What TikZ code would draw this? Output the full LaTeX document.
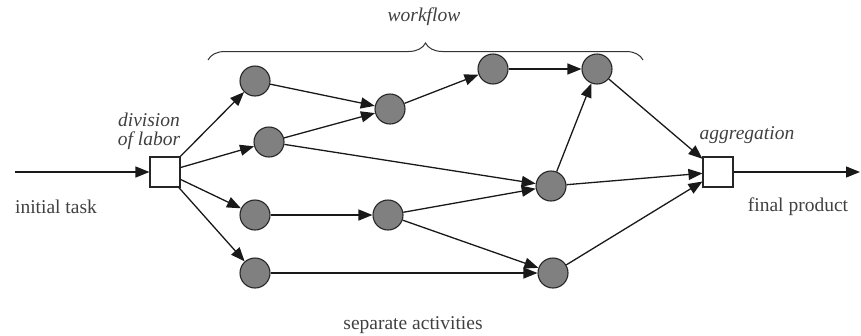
\documentclass[tikz,border=0pt]{standalone}
\usepackage{fontspec}
\setmainfont{Liberation Serif}
\usetikzlibrary{arrows.meta,decorations.pathreplacing}
\begin{document}
\begin{tikzpicture}[x=1pt,y=-1pt,
  act/.style={circle,draw=black!85,line width=1.1pt,fill=black!50,minimum size=30pt,inner sep=0pt},
  junction/.style={rectangle,draw=black!85,line width=1.1pt,fill=white,minimum size=30pt,inner sep=0pt},
  flow/.style={line width=1.3pt,draw=black!90,-{Triangle[length=14pt,width=11pt]}},
  lbl/.style={font=\fontsize{19.5}{22}\selectfont,text=black!75},
  ilbl/.style={font=\fontsize{19.5}{19}\selectfont\itshape,text=black!75}]
\useasboundingbox (0,0) rectangle (861,335);

% entry / exit points
\coordinate (in) at (15,172);
\coordinate (out) at (860,172);

% division and aggregation points
\node[junction] (div) at (165,172) {};
\node[junction] (agg) at (718,172) {};

% activities
\node[act] (a1) at (255,81) {};
\node[act] (a2) at (269,142) {};
\node[act] (a3) at (255,215) {};
\node[act] (a4) at (255,273) {};
\node[act] (b1) at (390,109) {};
\node[act] (b2) at (388,215) {};
\node[act] (c1) at (493,69) {};
\node[act] (c2) at (597,69) {};
\node[act] (d1) at (551,186) {};
\node[act] (d2) at (553,273) {};

% connectors
\draw[flow] (in) -- (div);
\draw[flow] (div) -- (a1);
\draw[flow] (div) -- (a2);
\draw[flow] (div) -- (a3);
\draw[flow] (div) -- (a4);
\draw[flow] (a1) -- (b1);
\draw[flow] (a2) -- (b1);
\draw[flow] (a2) -- (d1);
\draw[flow] (b1) -- (c1);
\draw[flow] (c1) -- (c2);
\draw[flow] (a3) -- (b2);
\draw[flow] (b2) -- (d1);
\draw[flow] (b2) -- (d2);
\draw[flow] (a4) -- (d2);
\draw[flow] (d1) -- (c2);
\draw[flow] (c2) -- (agg);
\draw[flow] (d1) -- (agg);
\draw[flow] (d2) -- (agg);
\draw[flow] (agg) -- (out);

% workflow brace
\coordinate (bl) at (208,60);
\coordinate (br) at (643,60);
\draw[line width=1pt,black!80,decorate,decoration={brace,amplitude=17pt}] (bl) -- (br);

% labels
\node[ilbl] (wf) at (424,17) {workflow};
\node[ilbl,align=center,inner sep=1pt] (dl) at (149,131) {division\\of labor};
\node[ilbl] (ag) at (747,135) {aggregation};
\node[lbl] (it) at (56,207) {initial task};
\node[lbl] (fp) at (798,207) {final product};
\node[lbl] (sa) at (413,325) {separate activities};
\end{tikzpicture}
\end{document}
